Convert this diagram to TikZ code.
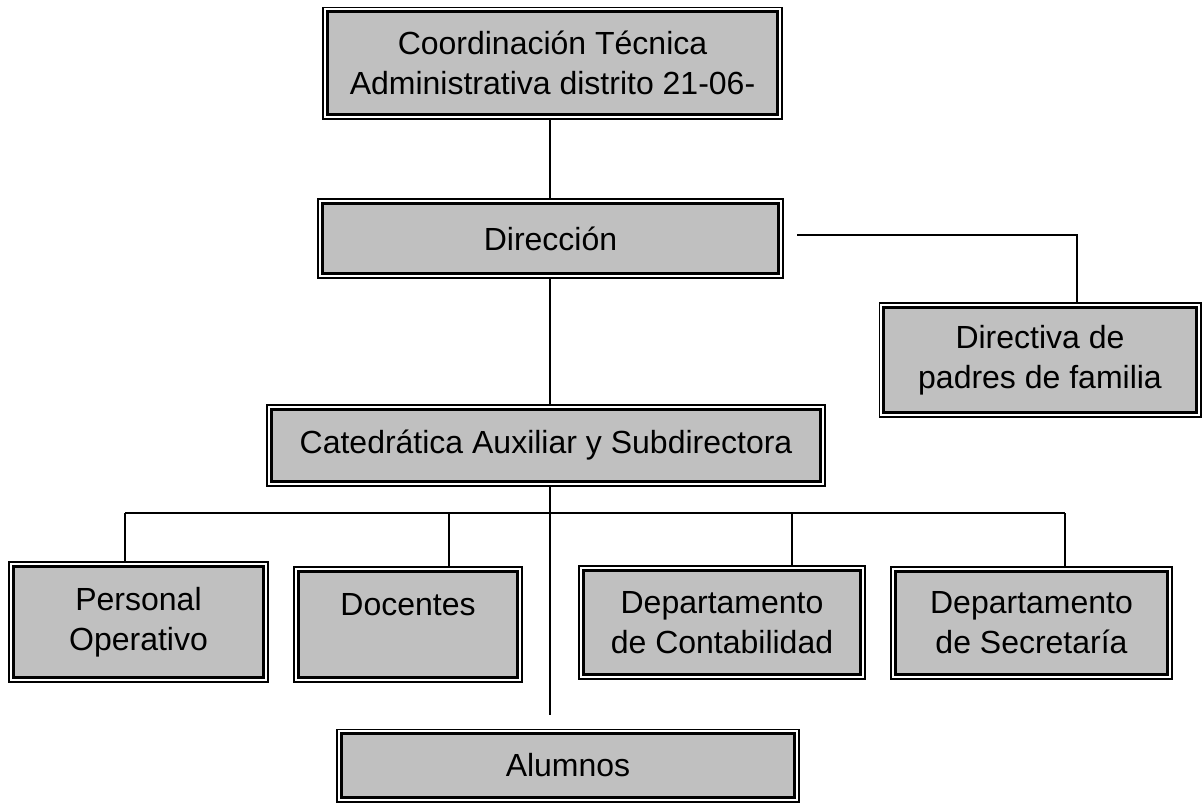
\documentclass[tikz,border=0pt]{standalone}
\usepackage{fontspec}
\setmainfont{Liberation Sans}
\definecolor{boxgray}{HTML}{C0C0C0}
\begin{document}
\begin{tikzpicture}[x=1pt,y=-1pt,
  orgbox/.style={draw=black, line width=3pt, fill=boxgray,
    preaction={draw=black, line width=10.6pt},
    preaction={draw=white, line width=7pt},
    inner sep=0pt, outer sep=5.3pt, align=center,
    font=\fontsize{32}{40}\selectfont},
  link/.style={draw=black, line width=1.8pt}]
\useasboundingbox (0,0) rectangle (1204,804);
\node[orgbox, minimum width=450.4pt, minimum height=102.4pt] (coord) at (552.5,63)
  {Coordinación Técnica\\Administrativa distrito 21-06-};
\node[orgbox, minimum width=456.4pt, minimum height=70.4pt] (dir) at (550.5,238.5) {Dirección};
\node[orgbox, minimum width=312.4pt, minimum height=105.4pt] (dpf) at (1040,360)
  {Directiva de\\padres de familia};
\node[orgbox, minimum width=549.4pt, minimum height=72.4pt] (cat) at (546,445.5)
  {Catedrática Auxiliar y Subdirectora};
\node[orgbox, minimum width=250.4pt, minimum height=111.4pt] (po) at (138.5,622)
  {Personal\\Operativo};
\node[orgbox, minimum width=219.4pt, minimum height=106.4pt] (doc) at (408,624.5)
  {Docentes\\\mbox{}};
\node[orgbox, minimum width=277.4pt, minimum height=104.4pt] (con) at (722,622.5)
  {Departamento\\de Contabilidad};
\node[orgbox, minimum width=272.4pt, minimum height=103.4pt] (sec) at (1031.5,623)
  {Departamento\\de Secretaría};
\node[orgbox, minimum width=453.4pt, minimum height=63.4pt] (alu) at (568,765.5) {Alumnos};

\coordinate (cx) at (550,0);
\coordinate (dstart) at (797,235);
\coordinate (dturn) at (1077,235);
\coordinate (b1) at (125,513);
\coordinate (b2) at (449,513);
\coordinate (b3) at (792,513);
\coordinate (b4) at (1065,513);
\coordinate (aend) at (550,715);

\draw[link] (coord.south -| cx) -- (dir.north -| cx);
\draw[link] (dir.south -| cx) -- (cat.north -| cx);
\draw[link] (dstart) -- (dturn) -- (dturn |- dpf.north);
\draw[link] (cat.south -| cx) -- (aend);
\draw[link] (b1) -- (b4);
\draw[link] (b1) -- (b1 |- po.north);
\draw[link] (b2) -- (b2 |- doc.north);
\draw[link] (b3) -- (b3 |- con.north);
\draw[link] (b4) -- (b4 |- sec.north);
\end{tikzpicture}
\end{document}
